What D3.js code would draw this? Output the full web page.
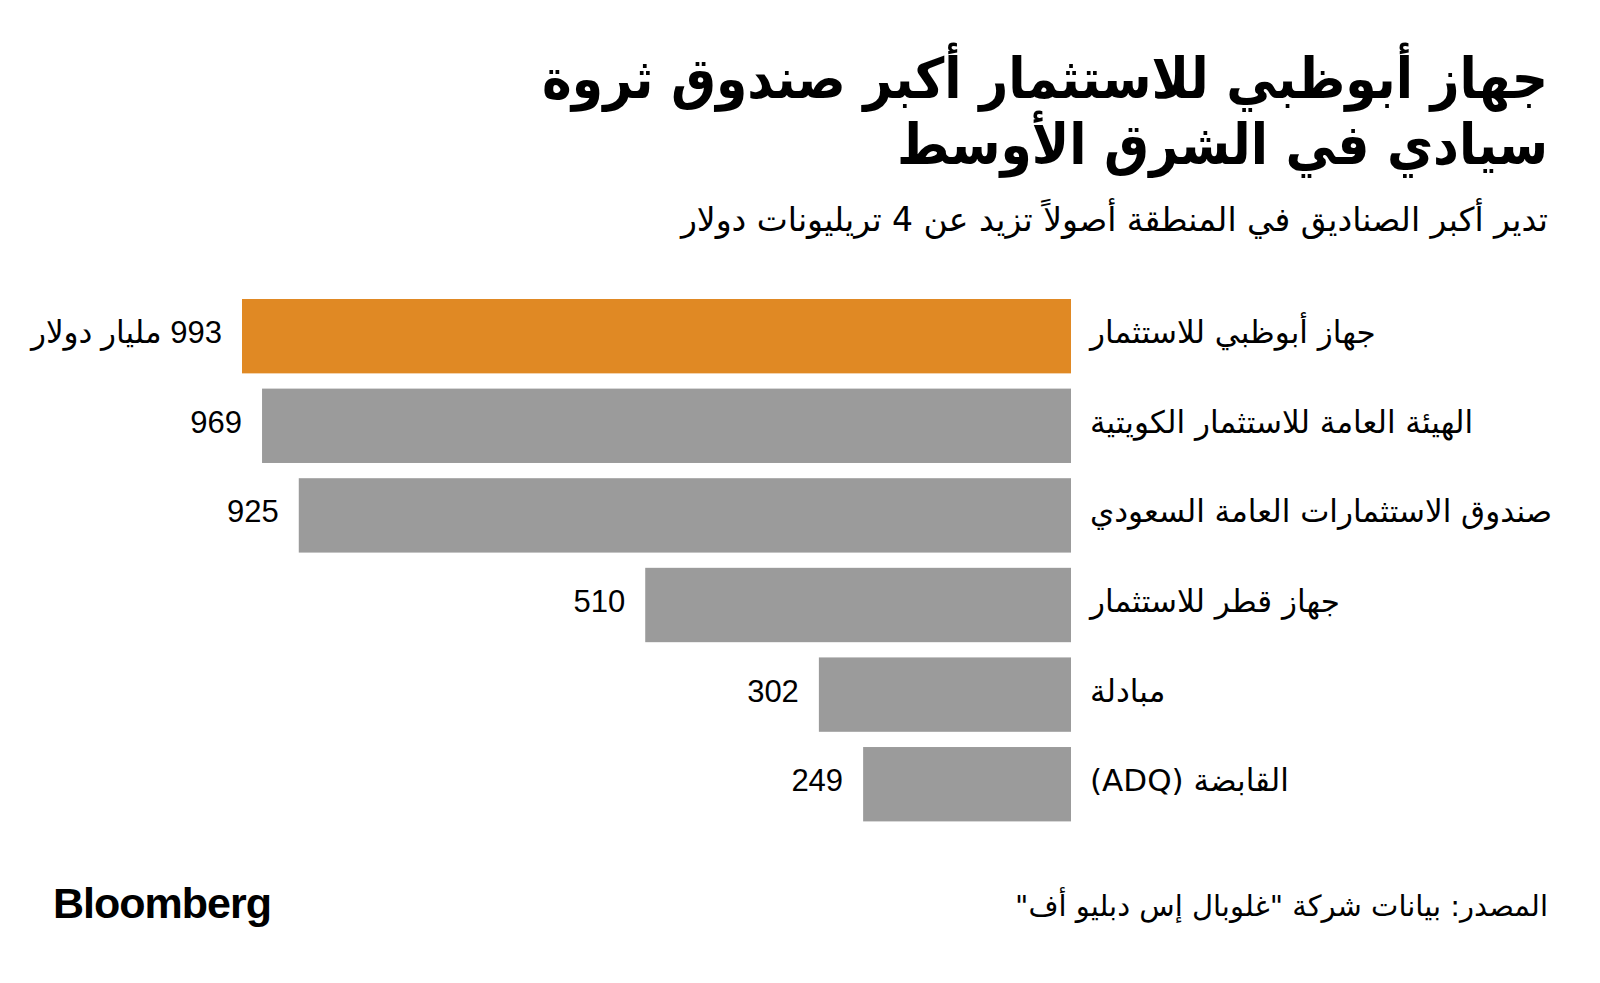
<!DOCTYPE html>
<html>
<head>
<meta charset="utf-8">
<script src="https://cdn.jsdelivr.net/npm/d3@7"></script>
<style>
  body { margin: 0; background: #fff; }
  svg { display: block; }
  .ar { font-family: "DejaVu Sans", "Noto Sans", sans-serif; }
  .num { font-family: "Liberation Sans", "DejaVu Sans", sans-serif; }
</style>
</head>
<body>
<svg width="1600" height="983"></svg>
<script>
// Données du graphique
const funds = ["جهاز أبوظبي للاستثمار", "الهيئة العامة للاستثمار الكويتية", "صندوق الاستثمارات العامة السعودي", "جهاز قطر للاستثمار", "مبادلة", "القابضة (ADQ)"];
const assets = [993, 969, 925, 510, 302, 249];
const valueLabels = ["993 مليار دولار", "969", "925", "510", "302", "249"];

const titleLines = ["جهاز أبوظبي للاستثمار أكبر صندوق ثروة", "سيادي في الشرق الأوسط"];
const subtitle = "تدير أكبر الصناديق في المنطقة أصولاً تزيد عن 4 تريليونات دولار";
const source = "المصدر: بيانات شركة \"غلوبال إس دبليو أف\"";

const svg = d3.select("svg");
const right = 1548;

// Titre
svg.selectAll("text.title").data(titleLines).enter().append("text")
  .attr("class", "title")
  .attr("x", right).attr("y", (d, i) => 98 + i * 66)
  .attr("direction", "rtl").attr("text-anchor", "start")
  .attr("font-family", "DejaVu Sans Condensed, DejaVu Sans, sans-serif")
  .attr("font-size", 56).attr("font-weight", "bold").attr("fill", "#000")
  .text(d => d);

svg.append("text").attr("class", "ar")
  .attr("x", right).attr("y", 231)
  .attr("direction", "rtl").attr("text-anchor", "start")
  .attr("font-size", 33).attr("fill", "#000")
  .text(subtitle);

// Echelles
const x = d3.scaleLinear().domain([0, 993]).range([1071, 242]);
const y = d3.scaleBand().domain(funds).range([299, 821.4]).paddingInner(0.17).paddingOuter(0);

const row = svg.selectAll("g.row").data(funds).enter().append("g").attr("class", "row");

row.append("rect")
  .attr("x", (d, i) => x(assets[i]))
  .attr("y", d => y(d))
  .attr("width", (d, i) => x(0) - x(assets[i]))
  .attr("height", y.bandwidth())
  .attr("fill", (d, i) => i === 0 ? "#e08924" : "#9b9b9b");

row.append("text").attr("class", "ar")
  .attr("x", x(0) + 19)
  .attr("y", d => y(d) + y.bandwidth() / 2 + 7)
  .attr("direction", "rtl").attr("text-anchor", "end")
  .attr("font-size", 31).attr("fill", "#000")
  .text(d => d);

row.append("text").attr("class", "num")
  .attr("x", (d, i) => x(assets[i]) - 20)
  .attr("y", d => y(d) + y.bandwidth() / 2 + 7)
  .attr("direction", "rtl").attr("text-anchor", "start")
  .attr("font-size", 31).attr("fill", "#000")
  .text((d, i) => valueLabels[i]);

// Pied de page
svg.append("text")
  .attr("x", 53).attr("y", 918)
  .attr("font-family", "Liberation Sans, Arial, sans-serif")
  .attr("font-size", 43).attr("font-weight", "bold").attr("letter-spacing", -1)
  .attr("fill", "#000")
  .text("Bloomberg");

svg.append("text").attr("class", "ar")
  .attr("x", right).attr("y", 916)
  .attr("direction", "rtl").attr("text-anchor", "start")
  .attr("font-size", 29).attr("fill", "#000")
  .text(source);
</script>
</body>
</html>
